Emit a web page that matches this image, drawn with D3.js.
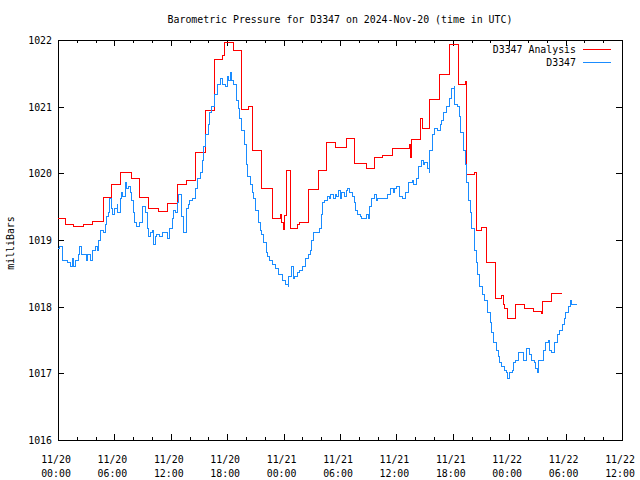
<!DOCTYPE html>
<html>
<head>
<meta charset="utf-8">
<script src="https://cdn.jsdelivr.net/npm/d3@7"></script>
<style>
  html, body { margin: 0; padding: 0; background: #fff; }
  svg text { font-family: "DejaVu Sans Mono", "Liberation Mono", monospace; font-size: 9.9px; fill: #000; }
</style>
</head>
<body>
<svg id="chart" width="640" height="480"></svg>
<script>
// ---- Data (hours since 2024-11-20 00:00 UTC, pressure in millibars) ----
const titleText = "Barometric Pressure for D3347 on 2024-Nov-20 (time in UTC)";
const yAxisTitle = "milliBars";
const seriesNames = ["D3347 Analysis", "D3347"];

const xTickHours = [0, 6, 12, 18, 24, 30, 36, 42, 48, 54, 60];
const xTickDates = ["11/20", "11/20", "11/20", "11/20", "11/21", "11/21", "11/21", "11/21", "11/22", "11/22", "11/22"];
const xTickTimes = ["00:00", "06:00", "12:00", "18:00", "00:00", "06:00", "12:00", "18:00", "00:00", "06:00", "12:00"];
const yTicks = [1016, 1017, 1018, 1019, 1020, 1021, 1022];

// Analysis (red, stepped)
const analysisHours = [0.00, 0.75, 1.60, 2.66, 3.62, 4.79, 5.74, 6.70, 7.77, 8.72, 9.68, 10.64, 11.70, 12.71, 13.62,
  14.68, 15.74, 16.60, 17.50, 17.71, 18.72, 19.52, 20.27, 20.64, 21.70, 22.77, 23.67, 23.78, 23.94, 24.04, 24.12,
  24.29, 24.71, 25.50, 25.71, 26.60, 27.66, 28.59, 29.57, 30.64, 31.54, 32.77, 33.62, 34.57, 35.59, 36.65, 37.37,
  37.50, 37.59, 38.59, 38.78, 39.57, 40.59, 41.60, 42.61, 43.30, 43.48, 44.26, 44.54, 45.00, 45.61, 46.56, 47.20,
  47.39, 47.55, 47.80, 48.67, 49.61, 50.56, 51.46, 51.54, 52.52, 53.59];
const analysisValues = [1019.33, 1019.23, 1019.21, 1019.23, 1019.28, 1019.64, 1019.84, 1020.02, 1019.93, 1019.64, 1019.47, 1019.43, 1019.55, 1019.84, 1019.90,
  1020.32, 1020.95, 1021.71, 1021.77, 1021.97, 1021.84, 1020.96, 1021.00, 1020.34, 1019.78, 1019.33, 1019.39, 1019.27, 1019.21, 1019.16, 1019.37,
  1020.04, 1019.18, 1019.23, 1019.27, 1019.76, 1020.05, 1020.47, 1020.39, 1020.53, 1020.15, 1020.08, 1020.24, 1020.27, 1020.37, 1020.38, 1020.43,
  1020.24, 1020.51, 1020.83, 1020.68, 1021.11, 1021.48, 1021.93, 1021.34, 1021.38, 1019.98, 1020.02, 1019.15, 1019.19, 1018.67, 1018.13, 1018.17,
  1018.04, 1017.98, 1017.83, 1018.04, 1017.98, 1017.93, 1017.90, 1018.08, 1018.20, 1018.20];

// Observations (blue)
const obsHours = [0.00, 0.21, 0.43, 0.53, 1.06, 1.28, 1.49, 1.60, 1.91, 2.13, 2.34, 2.55, 2.98, 3.19, 3.51, 3.72, 3.94, 4.15,
  4.26, 4.47, 4.79, 5.00, 5.21, 5.32, 5.53, 5.74, 5.85, 6.06, 6.28, 6.38, 6.60, 6.76, 6.91, 7.13, 7.34, 7.45, 7.66, 7.87,
  7.98, 8.19, 8.40, 8.72, 8.94, 9.04, 9.26, 9.47, 9.57, 9.68, 9.79, 10.00, 10.11, 10.32, 10.53, 10.85, 11.17, 11.70, 11.81,
  12.13, 12.34, 12.55, 12.66, 12.87, 13.09, 13.19, 13.40, 13.62, 13.83, 14.04, 14.36, 14.68, 14.89, 15.11, 15.32, 15.53,
  15.74, 15.96, 16.17, 16.38, 16.70, 17.02, 17.34, 17.45, 17.77, 17.98, 18.09, 18.30, 18.51, 18.72, 18.94, 19.15, 19.36,
  19.57, 19.79, 20.00, 20.21, 20.43, 20.64, 20.85, 21.06, 21.28, 21.49, 21.70, 21.91, 22.13, 22.34, 22.55, 22.87, 23.19,
  23.51, 23.83, 24.15, 24.47, 24.57, 24.79, 25.00, 25.21, 25.53, 25.74, 25.96, 26.28, 26.60, 26.81, 27.02, 27.13, 27.45,
  27.77, 27.98, 28.19, 28.40, 28.62, 28.83, 29.04, 29.26, 29.47, 29.68, 29.89, 30.00, 30.21, 30.43, 30.64, 30.85, 31.06,
  31.28, 31.49, 31.70, 31.91, 32.13, 32.34, 32.77, 32.98, 33.19, 33.40, 33.62, 33.83, 34.04, 35.00, 35.32, 35.64, 35.85,
  36.06, 36.38, 36.70, 37.02, 37.34, 37.66, 37.87, 38.09, 38.30, 38.62, 38.83, 39.04, 39.26, 39.47, 39.57, 39.79, 40.00,
  40.32, 40.64, 40.85, 41.06, 41.38, 41.70, 41.91, 42.13, 42.23, 42.45, 42.66, 42.87, 43.09, 43.30, 43.46, 43.62, 43.83,
  44.04, 44.26, 44.47, 44.68, 44.89, 45.11, 45.32, 45.64, 45.74, 45.96, 46.17, 46.38, 46.60, 46.81, 47.02, 47.23, 47.45,
  47.66, 47.87, 47.98, 48.30, 48.51, 48.72, 48.94, 49.04, 49.47, 49.89, 50.11, 50.32, 50.64, 50.85, 51.06, 51.17, 51.38,
  51.60, 51.81, 52.13, 52.34, 52.55, 52.77, 52.98, 53.19, 53.40, 53.62, 53.83, 54.04, 54.26, 54.47, 54.68, 55.21];
const obsValues = [1018.88, 1018.91, 1018.85, 1018.70, 1018.67, 1018.60, 1018.73, 1018.61, 1018.70, 1018.78, 1018.91, 1018.78, 1018.70, 1018.78, 1018.70, 1018.85, 1018.91, 1018.85,
  1019.00, 1019.15, 1019.12, 1019.23, 1019.35, 1019.42, 1019.62, 1019.48, 1019.38, 1019.48, 1019.53, 1019.41, 1019.63, 1019.71, 1019.65, 1019.87, 1019.78, 1019.81, 1019.72, 1019.60,
  1019.41, 1019.26, 1019.21, 1019.27, 1019.41, 1019.50, 1019.41, 1019.30, 1019.18, 1019.06, 1019.11, 1019.15, 1018.94, 1019.06, 1019.09, 1019.05, 1019.11, 1019.03, 1019.18,
  1019.33, 1019.45, 1019.41, 1019.56, 1019.69, 1019.48, 1019.35, 1019.11, 1019.48, 1019.53, 1019.60, 1019.63, 1019.78, 1019.93, 1020.02, 1020.20, 1020.41,
  1020.58, 1020.73, 1020.91, 1021.01, 1021.19, 1021.33, 1021.42, 1021.34, 1021.30, 1021.45, 1021.40, 1021.52, 1021.40, 1021.33, 1021.10, 1020.98, 1020.83,
  1020.65, 1020.44, 1020.14, 1019.96, 1019.83, 1019.72, 1019.62, 1019.45, 1019.27, 1019.15, 1019.08, 1018.96, 1018.82, 1018.76, 1018.69, 1018.63, 1018.57,
  1018.48, 1018.40, 1018.34, 1018.30, 1018.46, 1018.60, 1018.43, 1018.45, 1018.51, 1018.55, 1018.61, 1018.72, 1018.79, 1018.85, 1019.00, 1019.12, 1019.11,
  1019.18, 1019.39, 1019.56, 1019.60, 1019.66, 1019.63, 1019.69, 1019.63, 1019.69, 1019.66, 1019.75, 1019.63, 1019.71, 1019.65, 1019.74, 1019.78, 1019.71,
  1019.66, 1019.56, 1019.45, 1019.39, 1019.35, 1019.32, 1019.39, 1019.32, 1019.50, 1019.63, 1019.68, 1019.60, 1019.62, 1019.68, 1019.78, 1019.72, 1019.78,
  1019.81, 1019.66, 1019.62, 1019.71, 1019.86, 1019.90, 1019.84, 1019.93, 1020.10, 1020.19, 1020.14, 1020.17, 1020.08, 1020.01, 1020.35, 1020.58, 1020.68,
  1020.64, 1020.74, 1020.80, 1020.91, 1021.00, 1021.12, 1021.27, 1021.30, 1021.04, 1021.01, 1020.85, 1020.62, 1020.35, 1020.13, 1019.87, 1019.60, 1019.42,
  1019.18, 1018.85, 1018.67, 1018.48, 1018.30, 1018.18, 1018.10, 1018.10, 1017.91, 1017.77, 1017.61, 1017.46, 1017.35, 1017.26, 1017.17, 1017.11, 1017.05,
  1017.01, 1016.92, 1017.01, 1017.05, 1017.16, 1017.20, 1017.25, 1017.31, 1017.20, 1017.38, 1017.28, 1017.20, 1017.17, 1017.08, 1017.01, 1017.20, 1017.20,
  1017.35, 1017.46, 1017.50, 1017.35, 1017.31, 1017.46, 1017.47, 1017.58, 1017.65, 1017.74, 1017.83, 1017.91, 1018.01, 1018.10, 1018.03, 1018.03];

const colors = ["#ff0000", "#1a8cff"];

// ---- Layout ----
const svg = d3.select("#chart");
const L = 58, R = 622, T = 40, B = 440;
const x = d3.scaleLinear().domain([0, 60]).range([L, R]);
const y = d3.scaleLinear().domain([1016, 1022]).range([B, T]);

const minorHours = d3.range(0, 61, 2).filter(h => h % 6 !== 0);

function styleAxis(g) {
  g.selectAll("path.domain").remove();
  g.selectAll("line").attr("stroke", "#000").attr("shape-rendering", "crispEdges");
  g.selectAll("text").remove();
}

// Bottom major + minor ticks (inward)
svg.append("g").attr("transform", `translate(0,${B})`)
  .call(d3.axisBottom(x).tickValues(xTickHours).tickSize(-6).tickFormat(""))
  .call(styleAxis);
svg.append("g").attr("transform", `translate(0,${B})`)
  .call(d3.axisBottom(x).tickValues(minorHours).tickSize(-3).tickFormat(""))
  .call(styleAxis);
// Top mirror ticks
svg.append("g").attr("transform", `translate(0,${T})`)
  .call(d3.axisTop(x).tickValues(xTickHours).tickSize(-6).tickFormat(""))
  .call(styleAxis);
svg.append("g").attr("transform", `translate(0,${T})`)
  .call(d3.axisTop(x).tickValues(minorHours).tickSize(-3).tickFormat(""))
  .call(styleAxis);
// Left / right ticks
svg.append("g").attr("transform", `translate(${L},0)`)
  .call(d3.axisLeft(y).tickValues(yTicks).tickSize(-6).tickFormat(""))
  .call(styleAxis);
svg.append("g").attr("transform", `translate(${R},0)`)
  .call(d3.axisRight(y).tickValues(yTicks).tickSize(-6).tickFormat(""))
  .call(styleAxis);

// Frame
svg.append("rect")
  .attr("x", L + 0.5).attr("y", T + 0.5)
  .attr("width", R - L).attr("height", B - T)
  .attr("fill", "none").attr("stroke", "#000").attr("stroke-width", 1);

// Y tick labels
svg.append("g").selectAll("text").data(yTicks).join("text")
  .attr("x", L - 6).attr("y", d => y(d) + 4)
  .attr("text-anchor", "end")
  .text(d => d);

// X tick labels (two lines)
const xl = svg.append("g").selectAll("text").data(xTickHours).join("text")
  .attr("text-anchor", "middle");
xl.append("tspan").attr("x", d => x(d) - 2).attr("y", 463).text((d, i) => xTickDates[i]);
xl.append("tspan").attr("x", d => x(d) - 2).attr("y", 477).text((d, i) => xTickTimes[i]);

// Title
svg.append("text").attr("x", 340).attr("y", 23).attr("text-anchor", "middle").text(titleText);

// Y axis title
svg.append("text").attr("transform", "translate(14,243) rotate(-90)")
  .attr("text-anchor", "middle").text(yAxisTitle);

// Lines
const series = [
  analysisHours.map((h, i) => [h, analysisValues[i]]),
  obsHours.map((h, i) => [h, obsValues[i]])
];
const line = d3.line().x(d => x(d[0])).y(d => y(d[1])).curve(d3.curveStepAfter);
svg.append("g").selectAll("path").data(series).join("path")
  .attr("d", line)
  .attr("fill", "none")
  .attr("stroke", (d, i) => colors[i])
  .attr("stroke-width", 1)
  .attr("shape-rendering", "crispEdges");

// Legend
const legY = [49, 62];
const lg = svg.append("g");
seriesNames.forEach((name, i) => {
  lg.append("text").attr("x", 576).attr("y", legY[i] + 4).attr("text-anchor", "end").text(name);
  lg.append("line").attr("x1", 583).attr("x2", 611).attr("y1", legY[i] + 0.5).attr("y2", legY[i] + 0.5)
    .attr("stroke", colors[i]).attr("stroke-width", 1).attr("shape-rendering", "crispEdges");
});
</script>
</body>
</html>
